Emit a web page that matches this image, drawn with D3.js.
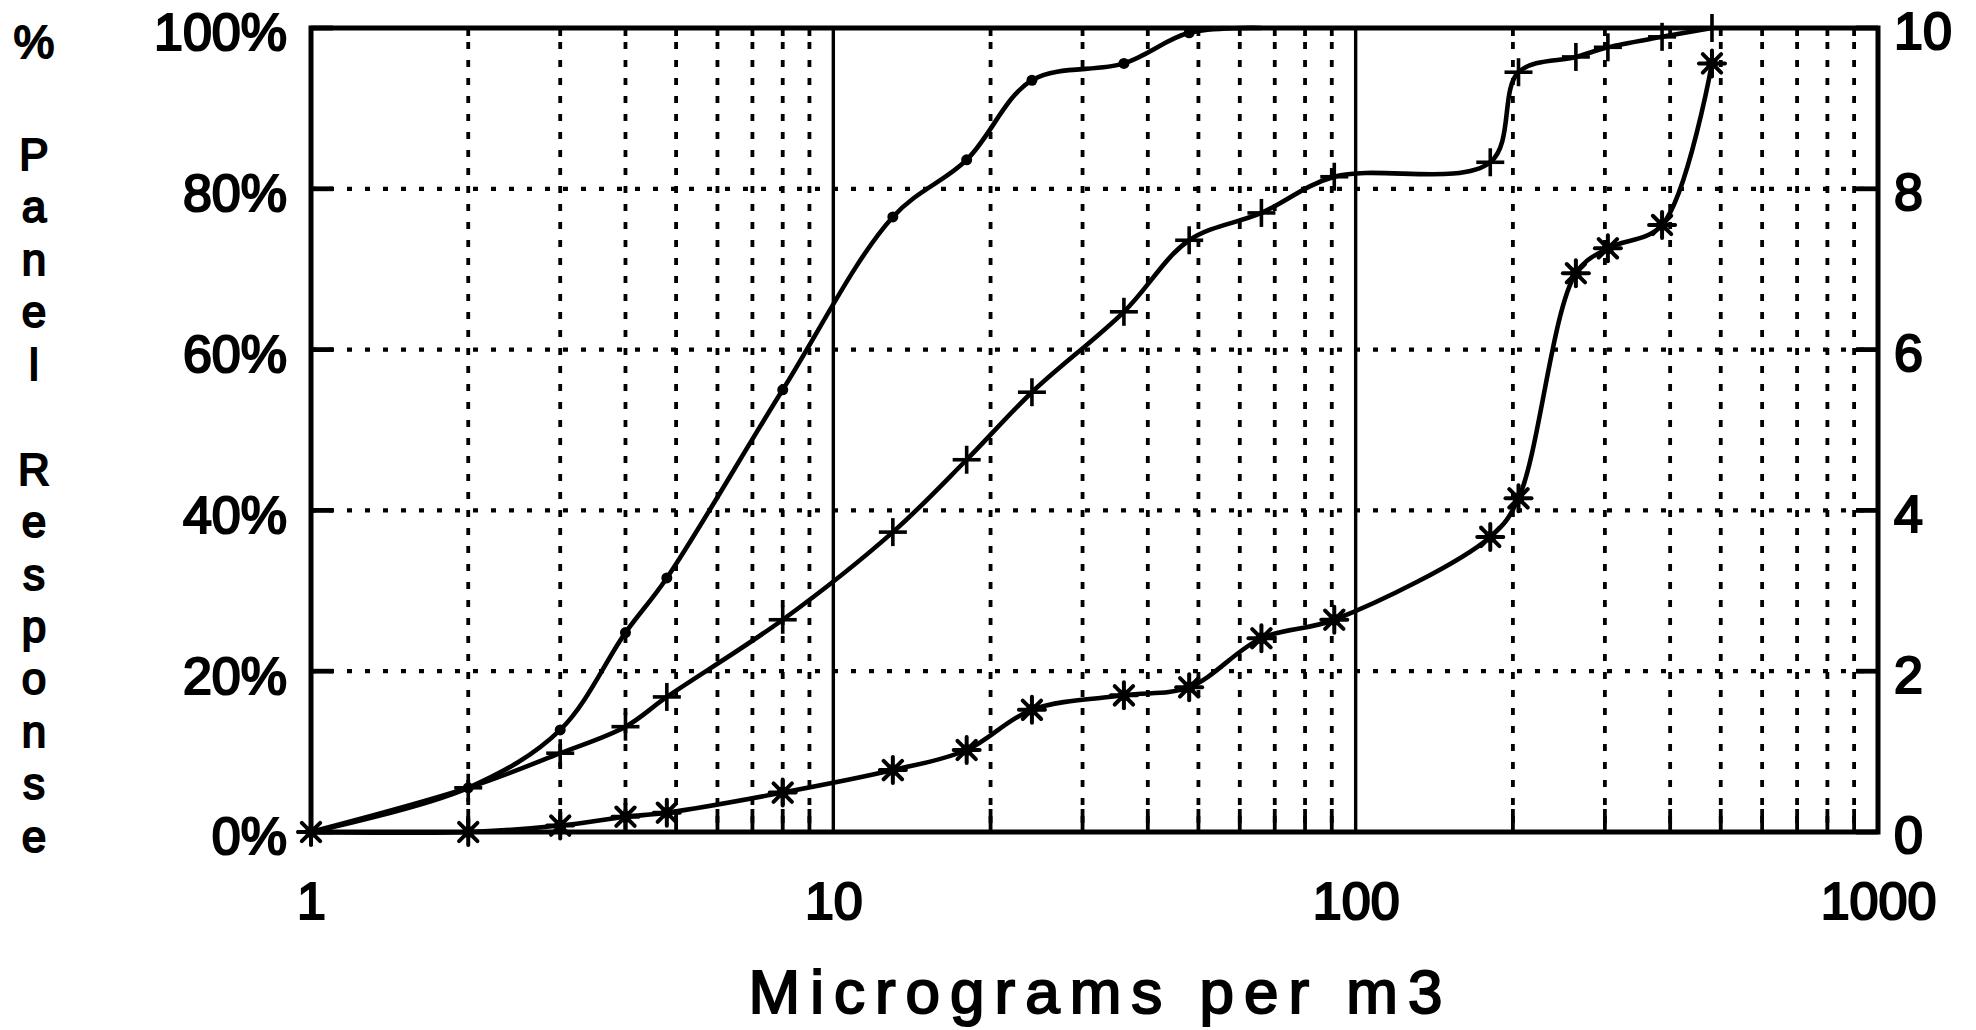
<!DOCTYPE html>
<html>
<head>
<meta charset="utf-8">
<script src="https://cdn.jsdelivr.net/npm/d3@7"></script>
<style>
  html, body { margin: 0; padding: 0; background: #fff; }
  svg { display: block; }
  text { font-family: "Liberation Sans", Arial, sans-serif; fill: #000; }
</style>
</head>
<body>
<svg id="chart" width="1976" height="1030"></svg>
<script>
// ---------------- data ----------------
const xTickValues = [1, 10, 100, 1000];
const xTickLabels = ["1", "10", "100", "1000"];
const yTickValues = [0, 20, 40, 60, 80, 100];
const yTickLabels = ["0%", "20%", "40%", "60%", "80%", "100%"];
const rightTickLabels = ["0", "2", "4", "6", "8", "10"];
const minorMultipliers = [2, 3, 4, 5, 6, 7, 8, 9];
const decades = [1, 10, 100];

const concentrations = [1, 2, 3, 4, 4.8, 8, 13, 18, 24, 36, 48, 66, 91, 181, 205, 264, 304, 386, 481];
const dotX = [1, 2, 3, 4, 4.8, 8, 13, 18, 24, 36, 48, 66];
const dotSeries = [0, 5.5, 12.7, 24.8, 31.6, 55, 76.5, 83.6, 93.5, 95.6, 99.4, 100];
const plusSeries = [0, 5.5, 9.8, 13.1, 16.8, 26.4, 37.3, 46.3, 54.7, 64.7, 73.6, 77, 81.5, 83.3, 94.5, 96.4, 97.6, 98.9, 100];
const starSeries = [0, 0, 0.8, 1.9, 2.4, 4.9, 7.7, 10.2, 15.2, 17, 18, 24.1, 26.4, 36.7, 41.5, 69.5, 72.6, 75.5, 95.6];

const xTitle = "Micrograms per m3";
const yTitleChars = ["%", "P", "a", "n", "e", "l", "R", "e", "s", "p", "o", "n", "s", "e"];

// ---------------- layout ----------------
const L = 311, R = 1878, T = 28, B = 832;
const svg = d3.select("#chart");
svg.append("rect").attr("width", 1976).attr("height", 1030).attr("fill", "#fff");

const x = d3.scaleLog().domain([1, 1000]).range([L, R]);
const y = d3.scaleLinear().domain([0, 100]).range([B, T]);
const yRight = d3.scaleLinear().domain([0, 10]).range([B, T]);

const minorTicks = [];
decades.forEach(d => minorMultipliers.forEach(m => minorTicks.push(d * m)));

const g = svg.append("g");

// dotted vertical minor grid
g.selectAll(".vgrid").data(minorTicks).enter().append("line")
  .attr("x1", d => x(d)).attr("x2", d => x(d))
  .attr("y1", T + 14).attr("y2", B)
  .attr("stroke", "#000").attr("stroke-width", 3.8)
  .attr("stroke-dasharray", "7,11");

// dotted horizontal grid
g.selectAll(".hgrid").data(yTickValues.filter(v => v > 0 && v < 100)).enter().append("line")
  .attr("x1", L).attr("x2", R)
  .attr("y1", d => y(d)).attr("y2", d => y(d))
  .attr("stroke", "#000").attr("stroke-width", 4.2)
  .attr("stroke-dasharray", "5,13");

// solid major verticals
g.selectAll(".major").data(xTickValues.filter(v => v > 1 && v < 1000)).enter().append("line")
  .attr("x1", d => x(d)).attr("x2", d => x(d))
  .attr("y1", T).attr("y2", B)
  .attr("stroke", "#000").attr("stroke-width", 3.4);

// bottom minor ticks (solid, inward)
g.selectAll(".btick").data(minorTicks).enter().append("line")
  .attr("x1", d => x(d)).attr("x2", d => x(d))
  .attr("y1", B).attr("y2", B - 23)
  .attr("stroke", "#000").attr("stroke-width", 3.8);
// top minor ticks
g.selectAll(".ttick").data(minorTicks).enter().append("line")
  .attr("x1", d => x(d)).attr("x2", d => x(d))
  .attr("y1", T).attr("y2", T + 8)
  .attr("stroke", "#000").attr("stroke-width", 3.8);

// left & right inward ticks
g.selectAll(".ltick").data(yTickValues).enter().append("line")
  .attr("x1", L).attr("x2", L + 22)
  .attr("y1", d => y(d)).attr("y2", d => y(d))
  .attr("stroke", "#000").attr("stroke-width", 4.8);
g.selectAll(".rtick").data(yTickValues).enter().append("line")
  .attr("x1", R - 22).attr("x2", R)
  .attr("y1", d => y(d)).attr("y2", d => y(d))
  .attr("stroke", "#000").attr("stroke-width", 4.8);

// frame
g.append("rect").attr("x", L).attr("y", T).attr("width", R - L).attr("height", B - T)
  .attr("fill", "none").attr("stroke", "#000").attr("stroke-width", 5);

// ---------------- axes (labels) ----------------
const labelStyle = sel => sel.selectAll("text")
  .style("font-family", "'Liberation Sans', Arial, sans-serif")
  .style("font-size", "52px")
  .attr("fill", "#000").attr("stroke", "#000").attr("stroke-width", 2.2);

const yAxis = svg.append("g").attr("transform", `translate(${L},0)`)
  .call(d3.axisLeft(y).tickValues(yTickValues)
    .tickFormat((d, i) => yTickLabels[i]).tickSize(0).tickPadding(24));
yAxis.select(".domain").remove();
labelStyle(yAxis);
yAxis.selectAll("text").attr("dy", "0.42em");

const rAxis = svg.append("g").attr("transform", `translate(${R},0)`)
  .call(d3.axisRight(yRight).tickValues([0, 2, 4, 6, 8, 10])
    .tickFormat((d, i) => rightTickLabels[i]).tickSize(0).tickPadding(16));
rAxis.select(".domain").remove();
labelStyle(rAxis);
rAxis.selectAll("text").attr("dy", "0.40em");

const xAxis = svg.append("g").attr("transform", `translate(0,${B})`)
  .call(d3.axisBottom(x).tickValues(xTickValues)
    .tickFormat((d, i) => xTickLabels[i]).tickSize(0).tickPadding(50));
xAxis.select(".domain").remove();
labelStyle(xAxis);

// x title
svg.append("text")
  .attr("x", (L + R) / 2 + 6).attr("y", 1013)
  .attr("text-anchor", "middle")
  .style("font-size", "62px").style("letter-spacing", "10px")
  .attr("stroke", "#000").attr("stroke-width", 2)
  .text(xTitle);

// y title (stacked characters)
const yTitleBaselines = [58, 170, 222, 275, 327, 380, 485, 537, 590, 642, 694, 747, 799, 852];
svg.append("g").selectAll("text").data(yTitleChars).enter().append("text")
  .attr("x", 34).attr("y", (d, i) => yTitleBaselines[i])
  .attr("text-anchor", "middle")
  .style("font-size", (d, i) => i === 0 ? "46px" : "44px")
  .attr("stroke", "#000").attr("stroke-width", 2)
  .text(d => d);

// ---------------- series ----------------
const line = d3.line().curve(d3.curveCatmullRom.alpha(0.5)).x(d => x(d[0])).y(d => y(d[1]));

const dotData = dotX.map((c, i) => [c, dotSeries[i]]);
const plusData = concentrations.map((c, i) => [c, plusSeries[i]]);
const starData = concentrations.map((c, i) => [c, starSeries[i]]);

[dotData, plusData, starData].forEach(data => {
  svg.append("path").datum(data).attr("d", line)
    .attr("fill", "none").attr("stroke", "#000").attr("stroke-width", 4.6)
    .attr("stroke-linejoin", "round");
});

// dot markers
svg.append("g").selectAll("circle").data(dotData.filter(d => d[1] < 100)).enter().append("circle")
  .attr("cx", d => x(d[0])).attr("cy", d => y(d[1])).attr("r", 5.5).attr("fill", "#000");

// plus markers
const plusG = svg.append("g").attr("stroke", "#000").attr("stroke-width", 3.6);
plusData.forEach(d => {
  const cx = x(d[0]), cy = y(d[1]), s = 14;
  plusG.append("line").attr("x1", cx - s).attr("x2", cx + s).attr("y1", cy).attr("y2", cy);
  plusG.append("line").attr("x1", cx).attr("x2", cx).attr("y1", cy - s).attr("y2", cy + s);
});

// star markers
const starG = svg.append("g").attr("stroke", "#000").attr("stroke-width", 4).attr("stroke-linecap", "round");
starData.forEach(d => {
  const cx = x(d[0]), cy = y(d[1]), s = 13;
  [0, 45, 90, 135].forEach(a => {
    const r = a * Math.PI / 180;
    starG.append("line")
      .attr("x1", cx - s * Math.cos(r)).attr("y1", cy - s * Math.sin(r))
      .attr("x2", cx + s * Math.cos(r)).attr("y2", cy + s * Math.sin(r));
  });
  starG.append("circle").attr("cx", cx).attr("cy", cy).attr("r", 6).attr("fill", "#000").attr("stroke", "none");
});
</script>
</body>
</html>
